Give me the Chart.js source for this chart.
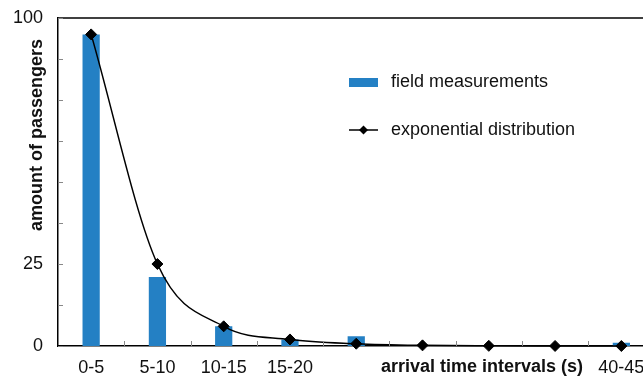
<!DOCTYPE html>
<html>
<head>
<meta charset="utf-8">
<script src="https://cdn.jsdelivr.net/npm/chart.js@4.4.1/dist/chart.umd.min.js"></script>
<style>
  html, body { margin: 0; padding: 0; background: #fff; overflow: hidden; }
  #wrap { width: 661px; height: 378px; }
</style>
</head>
<body>
<div id="wrap"><canvas id="chart" width="661" height="378"></canvas></div>
<script>
const categories = ['0-5', '5-10', '10-15', '15-20', '20-25', '25-30', '30-35', '35-40', '40-45']
const xTickLabels = ['0-5', '5-10', '10-15', '15-20', '', '', '', '', '40-45']
const fieldMeasurements = [95, 21, 6, 2, 3, 0, 0, 0, 1]
const exponentialDistribution = [95, 25, 6, 2, 0.7, 0.2, 0.05, 0.01, 0]
const yTickLabels = [0, 25, 100]

const FONT = "'Liberation Sans', Arial, sans-serif"
const BAR_COLOR = '#2480C4'

// titles, inner tick marks, top frame line and legend
const decorations = {
  id: 'decorations',
  afterDraw(chart) {
    const { ctx, chartArea: area, scales } = chart
    const x = scales.x
    const y = scales.y
    ctx.save()

    // top frame
    ctx.strokeStyle = '#000'
    ctx.lineWidth = 1.5
    ctx.beginPath()
    ctx.moveTo(area.left, area.top)
    ctx.lineTo(area.right, area.top)
    ctx.stroke()

    // inner tick marks
    ctx.strokeStyle = '#888'
    ctx.lineWidth = 1
    ctx.beginPath()
    y.ticks.forEach((t) => {
      const py = Math.round(y.getPixelForValue(t.value)) + 0.5
      ctx.moveTo(area.left, py)
      ctx.lineTo(area.left + 5, py)
    })
    for (let i = 1; i < categories.length; i++) {
      const px = Math.round((x.getPixelForTick(i - 1) + x.getPixelForTick(i)) / 2) + 0.5
      ctx.moveTo(px, area.bottom)
      ctx.lineTo(px, area.bottom - 5)
    }
    ctx.stroke()

    // axis titles
    ctx.fillStyle = '#111'
    ctx.font = 'bold 18px ' + FONT
    ctx.textAlign = 'center'
    ctx.textBaseline = 'middle'
    ctx.fillText('arrival time intervals (s)', 482, 367)
    ctx.translate(37, 135)
    ctx.rotate(-Math.PI / 2)
    ctx.fillText('amount of passengers', 0, 0)
    ctx.restore()

    // legend
    ctx.save()
    ctx.font = '18px ' + FONT
    ctx.textBaseline = 'middle'
    ctx.textAlign = 'left'
    const [bars, line] = chart.data.datasets
    ctx.fillStyle = BAR_COLOR
    ctx.fillRect(349, 78, 29, 9)
    ctx.fillStyle = '#111'
    ctx.fillText(bars.label, 391, 82)
    ctx.strokeStyle = '#000'
    ctx.lineWidth = 1.5
    ctx.beginPath()
    ctx.moveTo(349, 130)
    ctx.lineTo(378, 130)
    ctx.stroke()
    ctx.fillStyle = '#000'
    ctx.beginPath()
    ctx.moveTo(363.5, 125.5)
    ctx.lineTo(368, 130)
    ctx.lineTo(363.5, 134.5)
    ctx.lineTo(359, 130)
    ctx.closePath()
    ctx.fill()
    ctx.fillStyle = '#111'
    ctx.fillText(line.label, 391, 130)
    ctx.restore()
  },
}

new Chart(document.getElementById('chart'), {
  data: {
    labels: categories,
    datasets: [
      {
        type: 'bar',
        label: 'field measurements',
        data: fieldMeasurements,
        backgroundColor: BAR_COLOR,
        categoryPercentage: 1,
        barPercentage: 0.26,
        order: 1,
      },
      {
        type: 'line',
        label: 'exponential distribution',
        data: exponentialDistribution,
        borderColor: '#000',
        borderWidth: 1.5,
        cubicInterpolationMode: 'monotone',
        pointStyle: 'rectRot',
        pointRadius: 5.5,
        pointBackgroundColor: '#000',
        pointBorderColor: '#000',
        pointBorderWidth: 1,
        clip: false,
        order: 0,
      },
    ],
  },
  options: {
    responsive: false,
    animation: false,
    layout: { padding: { top: 18, left: 0, right: 0, bottom: 0 } },
    plugins: { legend: { display: false }, tooltip: { enabled: false } },
    scales: {
      x: {
        afterFit: (s) => { s.height = 32; s.paddingLeft = 0; s.paddingRight = 0 },
        grid: { display: false, drawTicks: false },
        border: { color: '#000', width: 1.5 },
        ticks: {
          padding: 11,
          autoSkip: false,
          maxRotation: 0,
          color: '#111',
          font: { family: FONT, size: 18 },
          callback: (v, i) => xTickLabels[i],
        },
      },
      y: {
        min: 0,
        max: 100,
        afterFit: (s) => { s.width = 58; s.paddingTop = 0; s.paddingBottom = 0 },
        grid: { display: false, drawTicks: false },
        border: { color: '#000', width: 1.5 },
        ticks: {
          stepSize: 12.5,
          padding: 15,
          autoSkip: false,
          color: '#111',
          font: { family: FONT, size: 18 },
          callback: (v) => (yTickLabels.includes(v) ? v : ''),
        },
      },
    },
  },
  plugins: [decorations],
})
</script>
</body>
</html>
